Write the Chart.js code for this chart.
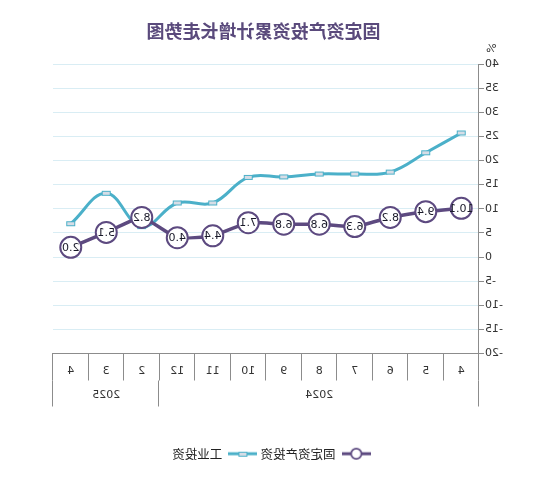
<!DOCTYPE html>
<html>
<head>
<meta charset="utf-8">
<script src="https://cdn.jsdelivr.net/npm/chart.js@4.4.1/dist/chart.umd.min.js"></script>
<style>
  html, body { margin: 0; padding: 0; background: #fff; }
  #wrap { width: 540px; height: 477px; }
  /* the reference picture is a mirror image */
  #trendChart { transform: scaleX(-1); }
</style>
</head>
<body>
<div id="wrap"><canvas id="trendChart" width="540" height="477"></canvas></div>
<script>
// Data
const months = ['4', '5', '6', '7', '8', '9', '10', '11', '12', '2', '3', '4'];
const years = ['2024', '2025'];
const yearSpans = [9, 3];
const fixedAsset = [10.1, 9.4, 8.2, 6.3, 6.8, 6.8, 7.1, 4.4, 4.0, 8.2, 5.1, 2.0];
const industry = [25.7, 21.6, 17.6, 17.2, 17.2, 16.6, 16.5, 11.2, 11.2, 6.3, 13.2, 6.9];
const chartTitle = '固定资产投资累计增长走势图';

const purple = '#5d4a80';
const cyan = '#4bb0c9';
const numFont = 'DejaVu Sans';
const cjkFont = 'Noto Sans CJK SC';

// small rectangle marker used for the industry line
function makeRectPoint() {
    const c = document.createElement('canvas');
    c.width = 11; c.height = 7;
    const g = c.getContext('2d');
    g.fillStyle = '#d6dde6';
    g.fillRect(1, 1, 9, 5);
    g.strokeStyle = cyan;
    g.lineWidth = 1;
    g.strokeRect(1.5, 1.5, 8, 4);
    return c;
}

// legend markers: a short line with the point symbol on it
function makeLegendMark(color, circle) {
    const c = document.createElement('canvas');
    c.width = 29; c.height = 14;
    const g = c.getContext('2d');
    g.strokeStyle = color;
    g.lineWidth = 3;
    g.beginPath(); g.moveTo(0, 7); g.lineTo(29, 7); g.stroke();
    if (circle) {
        g.fillStyle = '#fff';
        g.lineWidth = 1.8;
        g.beginPath(); g.arc(14.5, 7, 5.2, 0, Math.PI * 2); g.fill(); g.stroke();
    } else {
        g.drawImage(makeRectPoint(), 9, 4);
    }
    return c;
}

// numbers inside the circles
const valueLabels = {
    id: 'valueLabels',
    afterDatasetsDraw(chart) {
        const ctx = chart.ctx;
        const meta = chart.getDatasetMeta(0);
        ctx.save();
        ctx.font = '11px "' + numFont + '"';
        ctx.fillStyle = '#1a1a2a';
        ctx.textAlign = 'center';
        ctx.textBaseline = 'middle';
        meta.data.forEach((pt, i) => {
            ctx.fillText(fixedAsset[i].toFixed(1), pt.x, pt.y + 0.5);
        });
        ctx.restore();
    }
};

// title (placed a little right of the page centre), year row, unit mark
const extras = {
    id: 'extras',
    afterDraw(chart) {
        const ctx = chart.ctx;
        const x = chart.scales.x;
        const y = chart.scales.y;
        const top = x.top + 27;
        const bottom = x.top + 53;
        ctx.save();
        ctx.fillStyle = '#5a4a7c';
        ctx.font = 'bold 18px "' + cjkFont + '"';
        ctx.textAlign = 'center';
        ctx.textBaseline = 'middle';
        ctx.fillText(chartTitle, 276.5, 31);

        ctx.strokeStyle = '#8c8c8c';
        ctx.lineWidth = 1;
        ctx.font = '11px "' + numFont + '"';
        ctx.fillStyle = '#333';
        let start = 0;
        const edge = i => {
            if (i <= 0) return x.left;
            if (i >= months.length) return x.right;
            return (x.getPixelForValue(i - 1) + x.getPixelForValue(i)) / 2;
        };
        const drawLine = px => {
            const lx = Math.round(px) + 0.5;
            ctx.beginPath(); ctx.moveTo(lx, top); ctx.lineTo(lx, bottom); ctx.stroke();
        };
        drawLine(edge(0));
        years.forEach((yr, k) => {
            const end = start + yearSpans[k];
            drawLine(edge(end));
            ctx.fillText(yr, (edge(start) + edge(end)) / 2, x.top + 42);
            start = end;
        });
        ctx.textAlign = 'right';
        ctx.fillText('%', y.right - 7, chart.chartArea.top - 15);
        ctx.restore();
    }
};

const ctx = document.getElementById('trendChart').getContext('2d');
const rectPoint = makeRectPoint();
const legendMarks = [makeLegendMark(purple, true), makeLegendMark(cyan, false)];

new Chart(ctx, {
    type: 'line',
    data: {
        labels: months,
        datasets: [
            {
                label: '固定资产投资',
                data: fixedAsset,
                borderColor: purple,
                borderWidth: 3.5,
                pointRadius: 10.5,
                pointBackgroundColor: '#fff',
                pointBorderColor: purple,
                pointBorderWidth: 2,
                tension: 0.15
            },
            {
                label: '工业投资',
                data: industry,
                borderColor: cyan,
                borderWidth: 3,
                pointStyle: rectPoint,
                tension: 0.4
            }
        ]
    },
    options: {
        responsive: false,
        animation: false,
        events: [],
        layout: { padding: { left: 6, right: 9, top: 64, bottom: 7 } },
        scales: {
            x: {
                offset: true,
                grid: {
                    offset: true,
                    drawOnChartArea: false,
                    tickLength: 27,
                    color: '#8c8c8c'
                },
                border: { color: '#8c8c8c' },
                ticks: {
                    padding: -16,
                    color: '#333',
                    maxRotation: 0,
                    autoSkip: false,
                    font: { family: numFont, size: 11 }
                },
                afterFit(scale) { scale.height = 91; }
            },
            y: {
                min: -20,
                max: 40,
                ticks: {
                    stepSize: 5,
                    padding: 1,
                    color: '#333',
                    font: { family: numFont, size: 11 }
                },
                grid: {
                    color: '#d9edf4',
                    tickColor: '#8c8c8c',
                    tickLength: 5
                },
                border: { color: '#8c8c8c' },
                afterFit(scale) { scale.width = 55; }
            },
            // empty right-hand space so the plot ends where the reference does
            yRight: {
                position: 'right',
                min: -20,
                max: 40,
                grid: { display: false },
                border: { display: false },
                ticks: { display: false },
                afterFit(scale) { scale.width = 44; }
            }
        },
        plugins: {
            title: { display: false },
            legend: {
                position: 'bottom',
                labels: {
                    usePointStyle: true,
                    pointStyleWidth: 29,
                    padding: 3,
                    color: '#222',
                    font: { family: cjkFont, size: 12.5 },
                    generateLabels(chart) {
                        return chart.data.datasets.map((ds, i) => ({
                            text: ds.label,
                            pointStyle: legendMarks[i],
                            fontColor: '#222',
                            datasetIndex: i,
                            lineWidth: 0,
                            hidden: false
                        }));
                    }
                }
            },
            tooltip: { enabled: false }
        }
    },
    plugins: [valueLabels, extras]
});
</script>
</body>
</html>
